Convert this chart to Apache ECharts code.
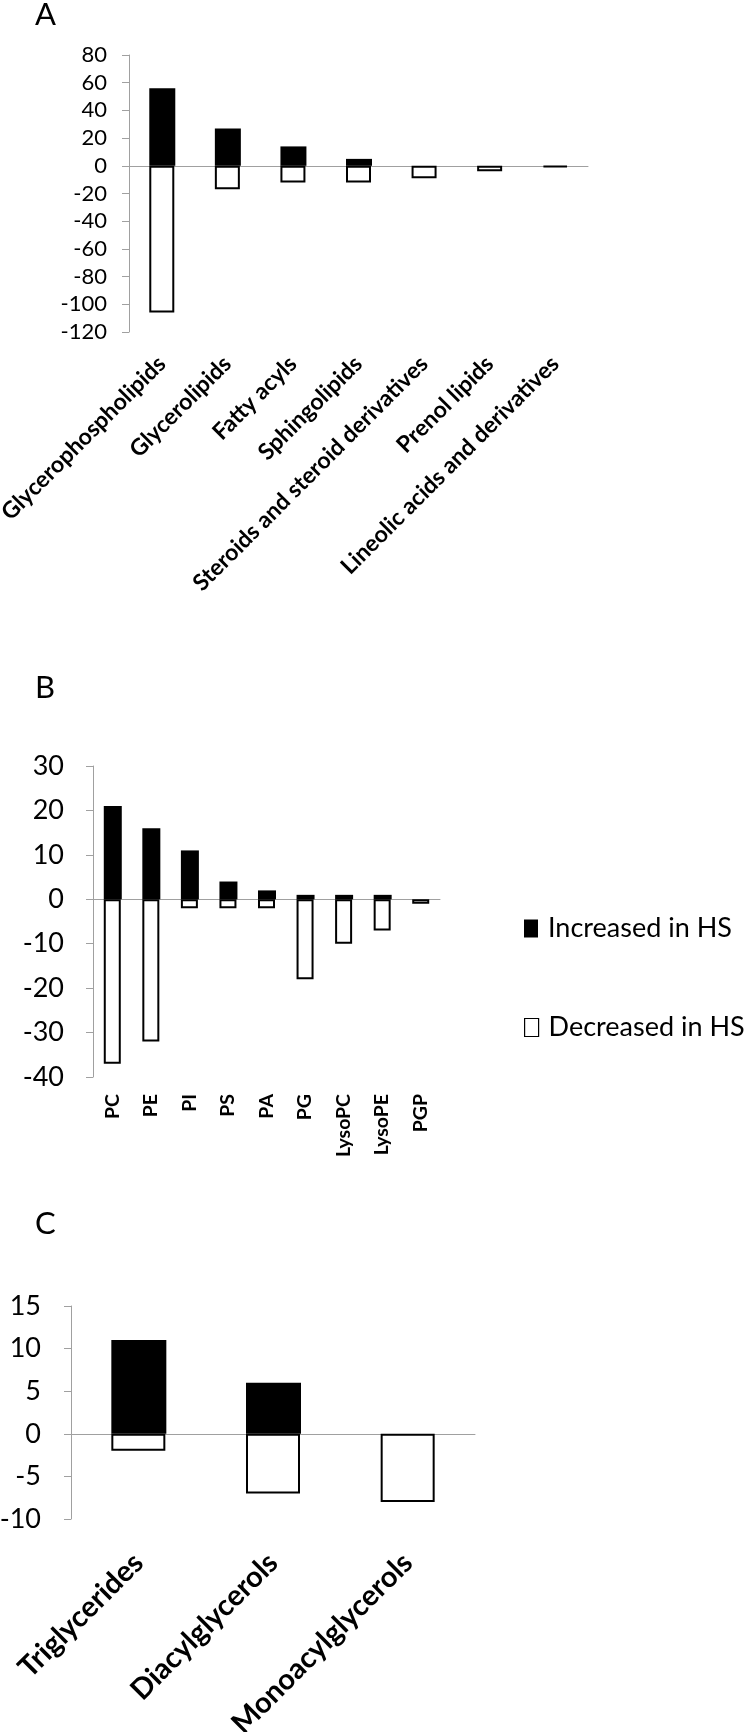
<!DOCTYPE html>
<html>
<head>
<meta charset="utf-8">
<script src="https://cdn.jsdelivr.net/npm/echarts@6/dist/echarts.min.js"></script>
<style>
html,body{margin:0;padding:0;background:#fff;}
#chart{width:750px;height:1732px;}
</style>
</head>
<body>
<div id="chart"></div>
<script>
// ---- Data ----
const catsA = ['Glycerophospholipids','Glycerolipids','Fatty acyls','Sphingolipids','Steroids and steroid derivatives','Prenol lipids','Lineolic acids and derivatives'];
const incA = [56, 27, 14, 5, 0, 0, 0];
const decA = [-106, -17, -12, -12, -9, -4, -1];

const catsB = ['PC','PE','PI','PS','PA','PG','LysoPC','LysoPE','PGP'];
const incB = [21, 16, 11, 4, 2, 1, 1, 1, 0];
const decB = [-37, -32, -2, -2, -2, -18, -10, -7, -1];

const catsC = ['Triglycerides','Diacylglycerols','Monoacylglycerols'];
const incC = [11, 6, 0];
const decC = [-2, -7, -8];

const seriesNames = ['Increased in HS','Decreased in HS'];
const panelLetters = ['A','B','C'];

// ---- Styles ----
const FONT = 'Lato, "Open Sans", sans-serif';
const AXIS_GRAY = '#a0a0a0';

const grids = [
  {left:129, top:55, width:459, height:277, containLabel:false, outerBoundsMode:'none'},
  {left:93, top:766, width:347, height:311, containLabel:false, outerBoundsMode:'none'},
  {left:71, top:1306, width:404, height:213, containLabel:false, outerBoundsMode:'none'}
];
const yCfg = [
  {min:-120, max:80, interval:20, fs:22, margin:22},
  {min:-40, max:30, interval:10, fs:27, margin:29},
  {min:-10, max:15, interval:5, fs:27, margin:30}
];
const xCfg = [
  {cats:catsA, rotate:45, fs:23, margin:28},
  {cats:catsB, rotate:90, fs:19.5, margin:17},
  {cats:catsC, rotate:45, fs:29, margin:39}
];
const barW = [26, 18, 55];
const incData = [incA, incB, incC];
const decData = [decA, decB, decC];

const xAxis = [], yAxis = [], series = [];
grids.forEach((g, i) => {
  yAxis.push({
    type:'value', gridIndex:i, min:yCfg[i].min, max:yCfg[i].max, interval:yCfg[i].interval,
    axisLine:{show:true, lineStyle:{color:AXIS_GRAY, width:1}},
    axisTick:{show:true, length:7, lineStyle:{color:AXIS_GRAY}},
    splitLine:{show:false},
    axisLabel:{color:'#000', fontFamily:FONT, fontSize:yCfg[i].fs, margin:yCfg[i].margin}
  });
  // label axis at bottom
  xAxis.push({
    type:'category', gridIndex:i, data:xCfg[i].cats, position:'bottom',
    axisLine:{show:false, onZero:false}, axisTick:{show:false},
    axisLabel:{color:'#000', fontFamily:FONT, fontWeight:'bold', fontSize:xCfg[i].fs,
      rotate:xCfg[i].rotate, margin:xCfg[i].margin, interval:0}
  });
  // zero line axis
  xAxis.push({
    type:'category', gridIndex:i, data:xCfg[i].cats,
    axisLine:{show:true, onZero:true, lineStyle:{color:AXIS_GRAY, width:1}},
    axisTick:{show:false}, axisLabel:{show:false}
  });
  series.push({
    name:seriesNames[0], type:'bar', xAxisIndex:2*i, yAxisIndex:i,
    data:incData[i], barWidth:barW[i], barGap:'-100%',
    itemStyle:{color:'#000'}, z:3
  });
  series.push({
    name:seriesNames[1], type:'bar', xAxisIndex:2*i, yAxisIndex:i,
    data:decData[i], barWidth:barW[i]-1, barGap:'-100%',
    itemStyle:{color:'#fff', borderColor:'#000', borderWidth:2}, z:3
  });
});

const legendBase = {
  orient:'vertical', left:519, icon:'rect', itemWidth:14, itemHeight:18,
  textStyle:{color:'#000', fontFamily:FONT, fontSize:27, padding:[0,0,0,5]},
  selectedMode:false
};

const option = {
  animation:false,
  backgroundColor:'#fff',
  grid:grids,
  xAxis:xAxis,
  yAxis:yAxis,
  series:series,
  legend:[
    Object.assign({}, legendBase, {data:[seriesNames[0]], top:910}),
    Object.assign({}, legendBase, {data:[seriesNames[1]], top:1009, itemStyle:{borderWidth:1.2}})
  ],
  graphic:[
    {type:'text', left:35, top:-1, style:{text:panelLetters[0], font:'31px ' + FONT, fill:'#000'}},
    {type:'text', left:35, top:672, style:{text:panelLetters[1], font:'31px ' + FONT, fill:'#000'}},
    {type:'text', left:35, top:1208, style:{text:panelLetters[2], font:'31px ' + FONT, fill:'#000'}}
  ]
};

const chart = echarts.init(document.getElementById('chart'), null, {renderer:'canvas'});
chart.setOption(option);
</script>
</body>
</html>
